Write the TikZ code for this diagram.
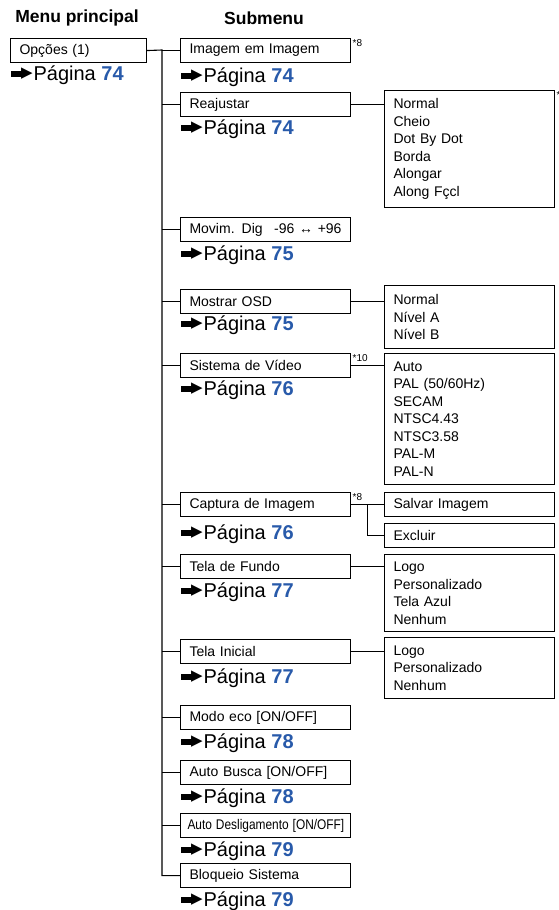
\documentclass[tikz,border=0pt]{standalone}
\usepackage{fontspec}
\setmainfont{Liberation Sans}
\newfontfamily\symfont{DejaVu Sans}
\usetikzlibrary{positioning,calc}
\definecolor{pagblue}{RGB}{40,90,170}
\newcommand{\pgarrow}{\rule[3pt]{12pt}{6pt}\kern-1.5pt\raisebox{3pt}{\symfont\fontsize{15}{15}\selectfont ▶}}
\newcommand{\pagref}[1]{\pgarrow\kern1pt Página \textbf{\color{pagblue}#1}}

\begin{document}
\begin{tikzpicture}[x=1pt, y=-1pt, line width=1.1pt,
  every node/.style={font=\fontsize{14}{17.5}\selectfont},
  head/.style={font=\fontsize{17.5}{20}\selectfont\bfseries},
  menubox/.style={draw, anchor=north west, minimum height=24pt, inner xsep=9pt, inner ysep=0pt, align=left},
  subbox/.style={menubox, text width=152pt},
  optbox/.style={draw, anchor=north west, text width=152pt, inner xsep=9pt, inner ysep=0pt, align=left},
  pag/.style={font=\fontsize{20}{24}\selectfont, inner sep=0pt},
  note/.style={font=\fontsize{10}{12}\selectfont, inner sep=1pt, anchor=north west}]
\useasboundingbox (0,0) rectangle (559,910);

% headings
\node[head] (hmain) at (77,18) {Menu principal};
\node[head] (hsub) at (264,18) {Submenu};

% main menu
\node[menubox, text width=118pt] (opc) at (10,38) {Opções (1)};
\node[pag, below right=12pt and 0pt of opc.south west, anchor=west] (popc) {\pagref{74}};

% submenu
\node[subbox] (imag) at (180,38) {Imagem em Imagem};
\node[subbox] (reaj) at (180,92) {Reajustar};
\node[subbox] (movim) at (180,217) {Movim. Dig\hfill-96 ↔ +96};
\node[subbox] (osd) at (180,289) {Mostrar OSD};
\node[subbox] (sist) at (180,353) {Sistema de Vídeo};
\node[subbox] (capt) at (180,492) {Captura de Imagem};
\node[subbox] (fundo) at (180,554) {Tela de Fundo};
\node[subbox] (inic) at (180,639) {Tela Inicial};
\node[subbox] (eco) at (180,705) {Modo eco [ON/OFF]};
\node[subbox] (busca) at (180,760) {Auto Busca [ON/OFF]};
\node[subbox, text width=156pt, inner xsep=7pt] (desl) at (180,813) {\scalebox{0.85}[1]{Auto Desligamento [ON/OFF]}};
\node[subbox] (bloq) at (180,863) {Bloqueio Sistema};

% page references
\node[pag, below right=14pt and 0pt of imag.south west, anchor=west] (pimag) {\pagref{74}};
\node[pag, below right=12pt and 0pt of reaj.south west, anchor=west] (preaj) {\pagref{74}};
\node[pag, below right=13pt and 0pt of movim.south west, anchor=west] (pmovim) {\pagref{75}};
\node[pag, below right=11pt and 0pt of osd.south west, anchor=west] (posd) {\pagref{75}};
\node[pag, below right=12pt and 0pt of sist.south west, anchor=west] (psist) {\pagref{76}};
\node[pag, below right=17pt and 0pt of capt.south west, anchor=west] (pcapt) {\pagref{76}};
\node[pag, below right=13pt and 0pt of fundo.south west, anchor=west] (pfundo) {\pagref{77}};
\node[pag, below right=14pt and 0pt of inic.south west, anchor=west] (pinic) {\pagref{77}};
\node[pag, below right=13pt and 0pt of eco.south west, anchor=west] (peco) {\pagref{78}};
\node[pag, below right=13pt and 0pt of busca.south west, anchor=west] (pbusca) {\pagref{78}};
\node[pag, below right=13pt and 0pt of desl.south west, anchor=west] (pdesl) {\pagref{79}};
\node[pag, below right=13pt and 0pt of bloq.south west, anchor=west] (pbloq) {\pagref{79}};

% option lists
\node[optbox, minimum height=117pt] (ropt) at (384,90) {Normal\\Cheio\\Dot By Dot\\Borda\\Alongar\\Along Fçcl};
\node[optbox, minimum height=63pt] (oopt) at (384,285) {Normal\\Nível A\\Nível B};
\node[optbox, minimum height=131pt] (vopt) at (384,353) {Auto\\PAL (50/60Hz)\\SECAM\\NTSC4.43\\NTSC3.58\\PAL-M\\PAL-N};
\node[optbox, minimum height=24pt] (salv) at (384,492) {Salvar Imagem};
\node[optbox, minimum height=24pt] (excl) at (384,523) {Excluir};
\node[optbox, minimum height=77pt] (fopt) at (384,554) {Logo\\Personalizado\\Tela Azul\\Nenhum};
\node[optbox, minimum height=61pt] (iopt) at (384,637) {Logo\\Personalizado\\Nenhum};

% notes
\node[note] (n8a) at (imag.north east) {*8};
\node[note] (nr) at (ropt.north east) {*};
\node[note] (n10) at (sist.north east) {*10};
\node[note] (n8b) at (capt.north east) {*8};

% connectors
\coordinate (trunk) at (162,50);
\draw (opc.east) -- (trunk) |- (bloq.west);
\foreach \b in {imag,reaj,movim,osd,sist,capt,fundo,inic,eco,busca,desl}
  \draw (\b.west -| trunk) -- (\b.west);
\draw (reaj.east) -- (reaj.east -| ropt.west);
\draw (osd.east) -- (osd.east -| oopt.west);
\draw (sist.east) -- (sist.east -| vopt.west);
\draw (capt.east) -- (salv.west);
\coordinate (capj) at ($(capt.east)!0.5!(salv.west)$);
\draw (capj) |- (excl.west);
\draw (fundo.east) -- (fundo.east -| fopt.west);
\draw (inic.east) -- (inic.east -| iopt.west);
\end{tikzpicture}
\end{document}
